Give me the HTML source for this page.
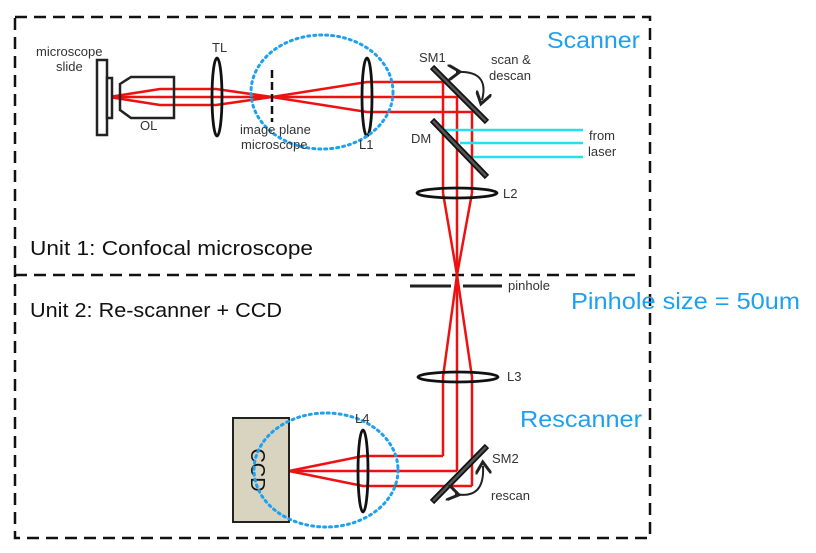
<!DOCTYPE html>
<html><head><meta charset="utf-8"><style>
html,body{margin:0;padding:0;background:#fff;width:816px;height:553px;overflow:hidden}
svg{display:block}
text{font-family:"Liberation Sans",sans-serif}
</style></head><body>
<svg width="816" height="553" viewBox="0 0 816 553" xmlns="http://www.w3.org/2000/svg">
<defs><marker id="ah" markerWidth="8" markerHeight="8" refX="4" refY="4" orient="auto"><path d="M0,0 L6,4 L0,8" fill="none" stroke="#222" stroke-width="1.5"/></marker></defs>
<rect x="15" y="17" width="635" height="521" fill="none" stroke="#111" stroke-width="2.5" stroke-dasharray="12,7"/>
<line x1="15" y1="275" x2="640" y2="275" stroke="#111" stroke-width="2.5" stroke-dasharray="12,7"/>
<g stroke="#ee1111" stroke-width="2.5" fill="none">
<path d="M109,97 L160,89 L216,89 L272,97 L367,82 L443,82 L443,193"/>
<path d="M109,97 L160,105 L216,105 L272,97 L367,112 L472,112 L472,193"/>
<path d="M109,97 L457,97 L457,193"/>
<path d="M443,193 L457,275 L472,377 L472,486"/>
<path d="M472,193 L457,275 L443,377 L443,456"/>
<path d="M457,193 L457,471"/>
<path d="M472,486 L363,486 L289,471"/>
<path d="M443,456 L363,456 L289,471"/>
<path d="M457,471 L289,471"/>
</g>
<g stroke="#22e0ee" stroke-width="2.5">
<line x1="445" y1="130" x2="583" y2="130"/><line x1="460" y1="143" x2="583" y2="143"/><line x1="473" y1="157" x2="583" y2="157"/>
</g>
<rect x="97" y="60" width="10" height="75" fill="#fff" stroke="#222" stroke-width="2.5"/>
<rect x="107" y="78" width="5" height="40" fill="#fff" stroke="#222" stroke-width="2.5"/>
<path d="M120,84 L131,77 L174,77 L174,118 L131,118 L120,110 Z" fill="none" stroke="#222" stroke-width="2.5"/>
<g fill="none" stroke="#111" stroke-width="2.8">
<ellipse cx="217" cy="97" rx="5" ry="39"/>
<ellipse cx="367" cy="97" rx="5" ry="39"/>
<ellipse cx="457" cy="193" rx="40" ry="5"/>
<ellipse cx="458" cy="377" rx="40" ry="5"/>
<ellipse cx="363" cy="471" rx="5" ry="41"/>
</g>
<line x1="272" y1="70" x2="272" y2="122" stroke="#111" stroke-width="2.5" stroke-dasharray="8,4"/>
<g stroke="#111" stroke-width="6"><line x1="432" y1="67" x2="487" y2="122"/><line x1="432" y1="120" x2="487" y2="177"/><line x1="432" y1="502" x2="487" y2="446"/></g>
<g stroke="#555" stroke-width="2.5"><line x1="433" y1="68" x2="486" y2="121"/><line x1="433" y1="121" x2="486" y2="176"/><line x1="433" y1="501" x2="486" y2="447"/></g>
<g stroke="#222" stroke-width="3"><line x1="410" y1="286" x2="451" y2="286"/><line x1="463" y1="286" x2="502" y2="286"/></g>
<path d="M456,72 Q490,70 482,100" fill="none" stroke="#222" stroke-width="2" marker-start="url(#ah)" marker-end="url(#ah)"/>
<path d="M455,494 Q485,500 483,466" fill="none" stroke="#222" stroke-width="2" marker-start="url(#ah)" marker-end="url(#ah)"/>
<rect x="233" y="418" width="56" height="104" fill="#d8d4c0" stroke="#222" stroke-width="2"/>
<text x="0" y="0" transform="translate(251,470) rotate(90)" font-size="20" text-anchor="middle" fill="#111">CCD</text>
<g fill="none" stroke="#1ea0f0" stroke-width="3" stroke-dasharray="2,4" stroke-linecap="round">
<ellipse cx="322" cy="92" rx="71" ry="57"/>
<ellipse cx="326" cy="470" rx="72" ry="57"/>
</g>
<g font-size="13" fill="#333">
<text x="36" y="56">microscope</text><text x="56" y="71">slide</text>
<text x="140" y="130">OL</text>
<text x="212" y="52">TL</text>
<text x="240" y="134">image plane</text><text x="241" y="149">microscope</text>
<text x="359" y="149">L1</text>
<text x="419" y="62">SM1</text>
<text x="491" y="64">scan &amp;</text><text x="489" y="80">descan</text>
<text x="411" y="143">DM</text>
<text x="589" y="140">from</text><text x="588" y="156">laser</text>
<text x="503" y="198">L2</text>
<text x="508" y="290">pinhole</text>
<text x="507" y="381">L3</text>
<text x="355" y="423">L4</text>
<text x="492" y="463">SM2</text>
<text x="491" y="500">rescan</text>
</g>
<g font-size="20" fill="#111">
<text x="30" y="255" textLength="283" lengthAdjust="spacingAndGlyphs">Unit 1: Confocal microscope</text>
<text x="30" y="317" textLength="252" lengthAdjust="spacingAndGlyphs">Unit 2: Re-scanner + CCD</text>
</g>
<g font-size="23" fill="#1ea0f0">
<text x="547" y="48" textLength="93" lengthAdjust="spacingAndGlyphs">Scanner</text>
<text x="571" y="309" textLength="229" lengthAdjust="spacingAndGlyphs">Pinhole size = 50um</text>
<text x="520" y="427" textLength="122" lengthAdjust="spacingAndGlyphs">Rescanner</text>
</g>
</svg>
</body></html>
